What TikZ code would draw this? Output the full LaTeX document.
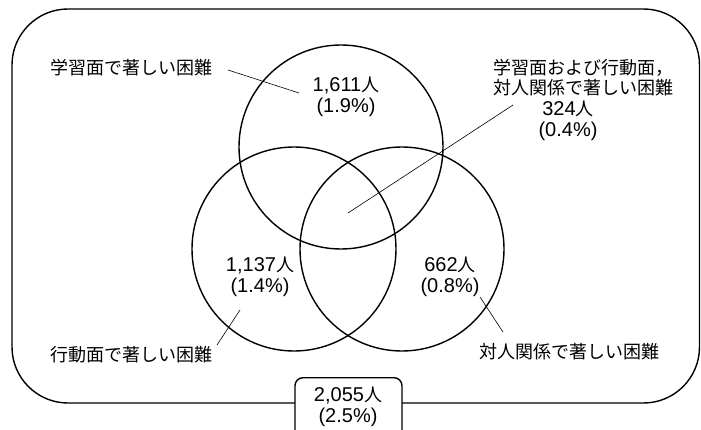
\documentclass[tikz,border=0pt]{standalone}
\usepackage{fontspec}
\newfontfamily\jp{Noto Sans CJK JP}
\newfontfamily\lat{Liberation Sans}
\newcommand\nm[1]{{\lat\fontsize{20}{20.5}\selectfont #1}}
\begin{document}
\begin{tikzpicture}[x=1pt,y=-1pt,
  lbl/.style={font=\jp\fontsize{18}{20.5}\selectfont, inner sep=0pt, align=center},
  venn/.style={circle, draw, line width=1.4pt, minimum size=204pt, inner sep=0pt},
  leader/.style={line width=0.6pt},
  frame/.style={draw, line width=1.4pt}]
\useasboundingbox (0,0) rectangle (701,430);
\clip (0,0) rectangle (701,430);
% outer frame
\draw[frame, rounded corners=56pt] (12,9) rectangle (699.5,403);
% circles
\node[venn] (ctop) at (341,147) {};
\node[venn] (cleft) at (294,249) {};
\node[venn] (cright) at (402,249) {};
% total box
\node[frame, fill=white, rounded corners=8pt, minimum width=107pt, minimum height=70pt, anchor=north] (total) at (348.5,377) {};
\node[lbl] (totaltxt) at (348,407) {\nm{2,055}人\\\nm{(2.5\%)}};
% labels
\node[lbl] (lstudy) at (131,68) {学習面で著しい困難};
\node[lbl] (nstudy) at (346,97) {\nm{1,611}人\\\nm{(1.9\%)}};
\node[lbl, align=left, anchor=west] (lall) at (493,77.5) {学習面および行動面，\\対人関係で著しい困難};
\node[lbl] (nall) at (568,121) {\nm{324}人\\\nm{(0.4\%)}};
\node[lbl] (nbeh) at (260,277) {\nm{1,137}人\\\nm{(1.4\%)}};
\node[lbl] (lbeh) at (131,355) {行動面で著しい困難};
\node[lbl] (nrel) at (450,277) {\nm{662}人\\\nm{(0.8\%)}};
\node[lbl] (lrel) at (569,352) {対人関係で著しい困難};
% leader lines
\coordinate (a1) at (228,70); \coordinate (a2) at (299,93);
\coordinate (b1) at (513,105); \coordinate (b2) at (348,213);
\coordinate (c1) at (240,310); \coordinate (c2) at (217,345);
\coordinate (d1) at (480,297); \coordinate (d2) at (503,332);
\draw[leader] (a1) -- (a2);
\draw[leader] (b1) -- (b2);
\draw[leader] (c1) -- (c2);
\draw[leader] (d1) -- (d2);
\end{tikzpicture}
\end{document}
